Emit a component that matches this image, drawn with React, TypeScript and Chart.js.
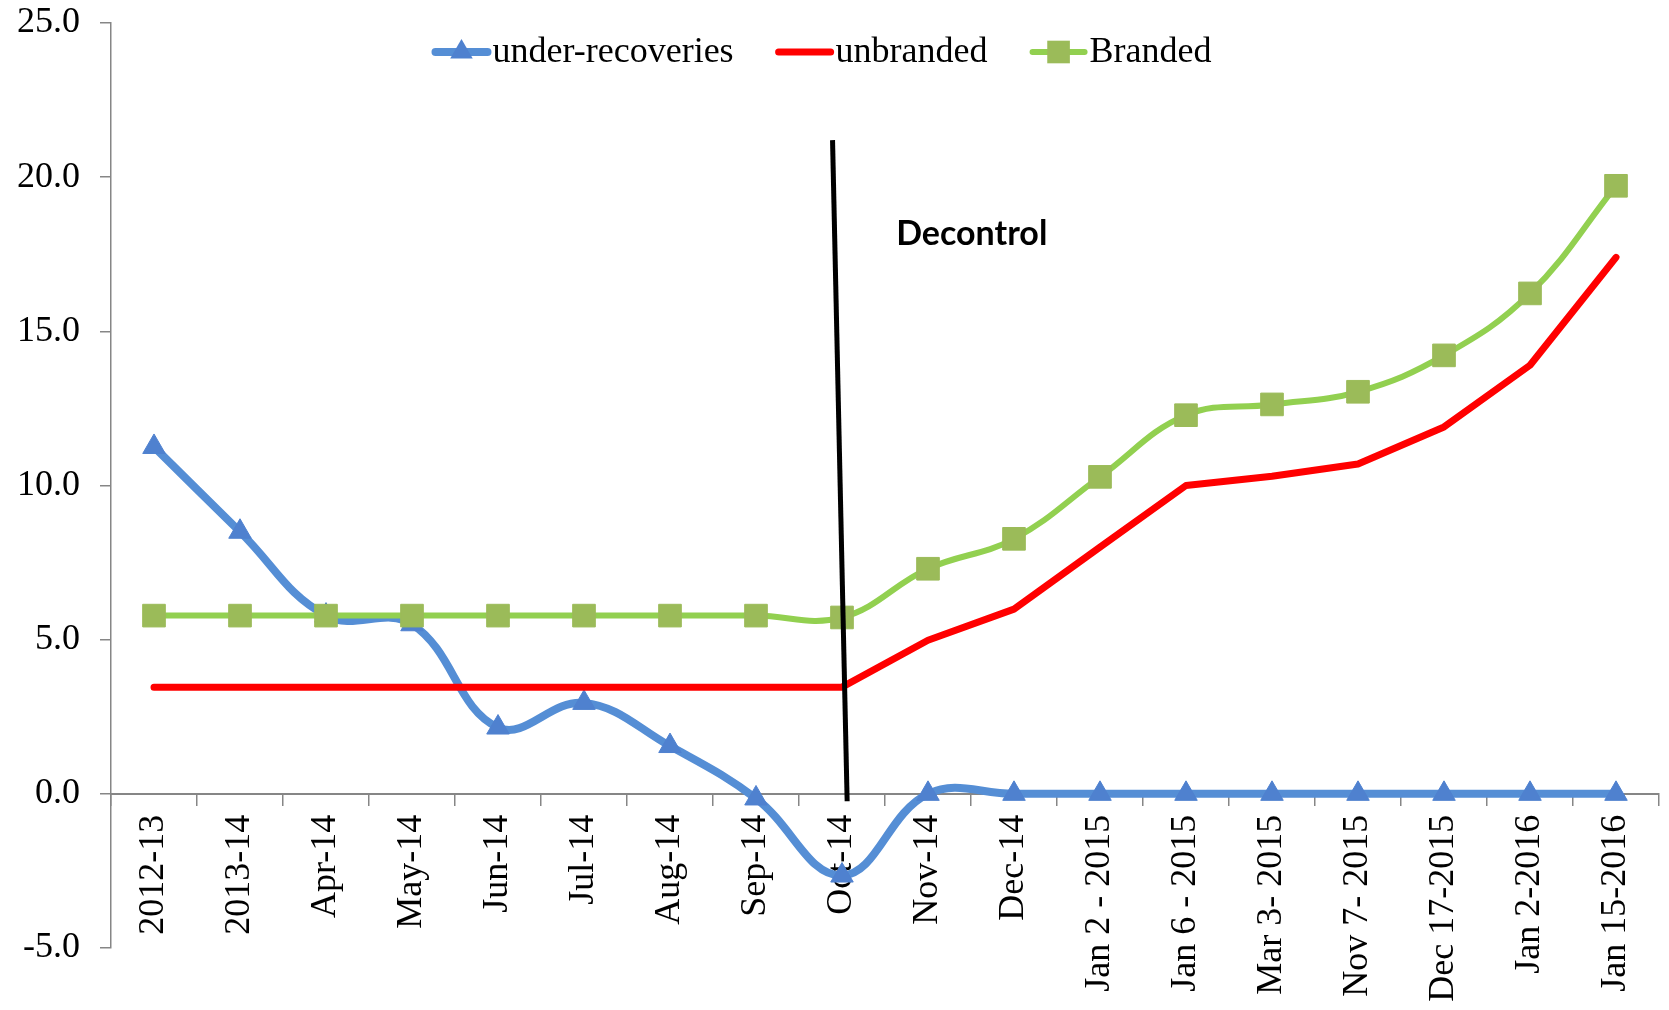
import React, { useEffect, useRef } from "react";
import { Chart, registerables } from "chart.js";

Chart.register(...registerables);

const categories = [
  "2012-13", "2013-14", "Apr-14", "May-14", "Jun-14", "Jul-14", "Aug-14", "Sep-14", "Oct-14",
  "Nov-14", "Dec-14", "Jan 2 - 2015", "Jan 6 - 2015", "Mar 3- 2015", "Nov 7- 2015",
  "Dec 17-2015", "Jan 2-2016", "Jan 15-2016",
];
const underRecoveries = [11.25, 8.5, 5.78, 5.5, 2.15, 2.95, 1.55, -0.15, -2.65, 0, 0, 0, 0, 0, 0, 0, 0, 0];
const unbranded = [3.46, 3.46, 3.46, 3.46, 3.46, 3.46, 3.46, 3.46, 3.46, 4.98, 5.99, 8.0, 10.0, 10.3, 10.7, 11.9, 13.9, 17.4];
const branded = [5.78, 5.78, 5.78, 5.78, 5.78, 5.78, 5.78, 5.78, 5.72, 7.3, 8.27, 10.28, 12.28, 12.63, 13.04, 14.22, 16.23, 19.72];
const seriesNames = ["under-recoveries", "unbranded", "Branded"];
const yMin = -5;
const yMax = 25;
const yStep = 5;
// Decontrol marker line, in (category index, value) terms
const decontrolX = [7.89, 8.06];
const decontrolY = [21.2, -0.24];
const decontrolText = "Decontrol";
const decontrolTextPos = [8.63, 18.17];

const SERIF = "'Liberation Serif', 'Times New Roman', serif";

const legendPlugin = {
  id: "customLegend",
  afterDraw(chart: any) {
    const ctx = chart.ctx;
    ctx.save();
    ctx.font = `36px ${SERIF}`;
    const lineLen = 58;
    const textGap = 2;
    const itemGap = 42;
    const items = chart.data.datasets.map((ds: any) => ({ ds, w: ctx.measureText(ds.label).width }));
    const total = items.reduce((s: number, it: any) => s + lineLen + textGap + it.w, 0) + itemGap * (items.length - 1);
    let x = 822 - total / 2;
    const y = 52;
    for (const it of items) {
      const ds = it.ds;
      ctx.strokeStyle = ds.borderColor;
      ctx.lineWidth = ds.borderWidth;
      ctx.lineCap = "round";
      ctx.beginPath();
      ctx.moveTo(x + 3, y);
      ctx.lineTo(x + lineLen - 3, y);
      ctx.stroke();
      if (ds.pointRadius > 0) {
        ctx.fillStyle = ds.pointBackgroundColor;
        const cx = x + lineLen / 2;
        const r = ds.pointRadius;
        ctx.beginPath();
        if (ds.pointStyle === "triangle") {
          ctx.moveTo(cx, y - r);
          ctx.lineTo(cx + r * 0.866, y + r / 2);
          ctx.lineTo(cx - r * 0.866, y + r / 2);
          ctx.closePath();
        } else {
          const s = r * Math.SQRT1_2;
          ctx.rect(cx - s, y - s, 2 * s, 2 * s);
        }
        ctx.fill();
      }
      x += lineLen + textGap;
      ctx.fillStyle = "#000";
      ctx.textAlign = "left";
      ctx.textBaseline = "middle";
      ctx.fillText(ds.label, x, y + 1);
      x += it.w + itemGap;
    }
    ctx.restore();
  },
};

const decontrolPlugin = {
  id: "decontrol",
  afterDatasetsDraw(chart: any) {
    const ctx = chart.ctx;
    const xs = chart.scales.x;
    const ys = chart.scales.y;
    ctx.save();
    ctx.strokeStyle = "#000";
    ctx.lineWidth = 5;
    ctx.beginPath();
    ctx.moveTo(xs.getPixelForValue(decontrolX[0]), ys.getPixelForValue(decontrolY[0]));
    ctx.lineTo(xs.getPixelForValue(decontrolX[1]), ys.getPixelForValue(decontrolY[1]));
    ctx.stroke();
    ctx.fillStyle = "#000";
    ctx.font = "bold 34px Lato, 'Open Sans', sans-serif";
    ctx.textAlign = "left";
    ctx.textBaseline = "middle";
    ctx.fillText(decontrolText, xs.getPixelForValue(decontrolTextPos[0]), ys.getPixelForValue(decontrolTextPos[1]));
    ctx.restore();
  },
};

export default function App() {
  const ref = useRef<HTMLCanvasElement | null>(null);
  useEffect(() => {
    document.body.style.margin = "0";
    document.body.style.overflow = "hidden";
    if (!ref.current) return;
    const chart = new Chart(ref.current, {
      type: "line",
      data: {
        labels: categories,
        datasets: [
          {
            label: seriesNames[0],
            data: underRecoveries,
            borderColor: "#558ED5",
            borderWidth: 8,
            tension: 0.4,
            pointStyle: "triangle",
            pointRadius: 13,
            pointHoverRadius: 13,
            pointBackgroundColor: "#4F81CF",
            pointBorderColor: "#4F81CF",
            pointBorderWidth: 1,
            borderJoinStyle: "round",
            borderCapStyle: "round",
            order: 2,
          },
          {
            label: seriesNames[1],
            data: unbranded,
            borderColor: "#FF0000",
            borderWidth: 7,
            tension: 0,
            pointRadius: 0,
            pointHoverRadius: 0,
            pointBackgroundColor: "#FF0000",
            pointBorderColor: "#FF0000",
            borderJoinStyle: "round",
            borderCapStyle: "round",
            order: 1,
          },
          {
            label: seriesNames[2],
            data: branded,
            borderColor: "#92D050",
            borderWidth: 6,
            tension: 0.4,
            pointStyle: "rect",
            pointRadius: 16,
            pointHoverRadius: 16,
            pointBackgroundColor: "#9BBB59",
            pointBorderColor: "#9BBB59",
            pointBorderWidth: 1,
            borderJoinStyle: "round",
            borderCapStyle: "round",
            order: 0,
          },
        ] as any,
      },
      options: {
        animation: false,
        responsive: true,
        maintainAspectRatio: false,
        layout: { padding: { left: 0, top: 23, right: 10, bottom: 62 } },
        plugins: {
          legend: { display: false },
          tooltip: { enabled: false },
        },
        scales: {
          x: {
            type: "category",
            offset: true,
            position: { y: 0 } as any,
            grid: {
              offset: true,
              drawOnChartArea: false,
              drawTicks: true,
              tickLength: 11,
              color: "#868686",
              lineWidth: 1.5,
            },
            border: { display: true, color: "#868686", width: 2 },
            ticks: {
              autoSkip: false,
              minRotation: 90,
              maxRotation: 90,
              padding: 10,
              color: "#000",
              font: { family: SERIF, size: 36 },
            },
            afterFit: (scale: any) => {
              scale.height = 0;
              scale.paddingLeft = 0;
              scale.paddingRight = 0;
            },
          },
          y: {
            min: yMin,
            max: yMax,
            grid: {
              drawOnChartArea: false,
              drawTicks: true,
              tickLength: 11,
              color: "#868686",
              lineWidth: 1.5,
            },
            border: { display: true, color: "#868686", width: 1.5 },
            ticks: {
              stepSize: yStep,
              padding: 20,
              color: "#000",
              font: { family: SERIF, size: 36 },
              callback: (v: any) => Number(v).toFixed(1),
            },
            afterFit: (scale: any) => {
              scale.width = 111;
              scale.paddingTop = 20;
              scale.paddingBottom = 20;
            },
          },
        },
      },
      plugins: [decontrolPlugin, legendPlugin],
    });
    return () => chart.destroy();
  }, []);
  return (
    <div style={{ width: "1669px", height: "1010px", position: "relative", overflow: "hidden" }}>
      <div style={{ width: "1676px", height: "1010px", position: "absolute", left: 0, top: 0 }}>
        <canvas ref={ref} />
      </div>
    </div>
  );
}
